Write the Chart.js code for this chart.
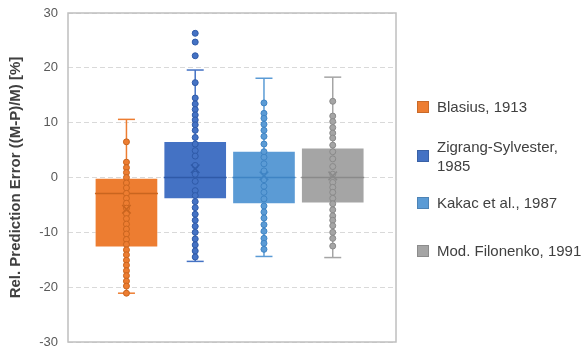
<!DOCTYPE html>
<html>
<head>
<meta charset="utf-8">
<script src="https://cdn.jsdelivr.net/npm/chart.js@4.4.1/dist/chart.umd.min.js"></script>
<style>
  body { margin: 0; background: #fff; }
  #wrap { position: relative; width: 587px; height: 347px; overflow: hidden; }
  #legend { position: absolute; left: 417px; top: 0; width: 170px; font: 15px "Liberation Sans", Arial, sans-serif; color: #404040; }
  .item { position: absolute; left: 0; width: 170px; display: flex; align-items: center; }
  .sw { width: 12px; height: 12px; margin-right: 8px; flex: none; box-sizing: border-box; border: 1px solid rgba(0,0,0,0.15); }
  .txt { flex: none; width: 150px; line-height: 19px; }
</style>
</head>
<body>
<div id="wrap">
  <canvas id="boxChart" width="587" height="347"></canvas>
  <div id="legend"></div>
</div>
<script>
// box plot summary per method
const categories = ['Blasius, 1913', 'Zigrang-Sylvester, 1985', 'Kakac et al., 1987', 'Mod. Filonenko, 1991'];
const whiskerLow = [-21.1, -15.3, -14.4, -14.6];
const whiskerHigh = [10.6, 19.6, 18.1, 18.3];
const q1 = [-12.7, -3.9, -4.8, -4.7];
const q3 = [0.0, 6.6, 4.8, 5.4];
const medians = [-2.9, 0.0, 0.0, 0.0];
const means = [-5.8, 1.6, 0.3, 0.3];

// individual errors
const blasiusPts = [6.5, 2.8, 1.8, 0.9, 0.0, -1.0, -1.9, -2.9, -3.8, -4.7, -5.6, -6.6, -7.5, -8.5, -9.4,
  -10.3, -11.3, -12.2, -13.2, -14.1, -15.1, -16.0, -17.0, -17.9, -18.9, -19.8, -21.1];
const zigrangPts = [26.3, 24.7, 22.2, 17.3, 14.5, 13.4, 12.4, 11.4, 10.5, 9.6, 8.6, 7.3, 6.1, 4.9, 3.9,
  2.2, 0.6, -0.7, -2.4, -3.3, -4.4, -5.5, -6.7, -7.8, -8.9, -10.0, -11.2, -12.3, -13.4, -14.5];
const kakacPts = [13.6, 11.7, 10.8, 9.7, 8.6, 7.5, 6.1, 4.7, 3.7, 2.5, 1.2, -0.4, -1.6, -2.7, -3.9,
  -5.2, -6.3, -7.4, -8.6, -9.8, -11.1, -12.0, -13.1];
const filonenkoPts = [13.9, 11.2, 10.2, 9.1, 8.1, 7.2, 5.9, 4.7, 3.4, 2.0, 0.6, -0.9, -1.8, -2.7, -3.8,
  -4.8, -5.9, -7.0, -7.8, -8.8, -10.0, -11.1, -12.5];
const points = [blasiusPts, zigrangPts, kakacPts, filonenkoPts];

const yTicks = [-30, -20, -10, 0, 10, 20, 30];

const fills = ['#ED7D31', '#4472C4', '#5B9BD5', '#A5A5A5'];
const edges = ['#C9651F', '#2F5AA8', '#3F84C4', '#8A8A8A'];

const datasets = [];
categories.forEach(function(name, i) {
  const x = i + 1;
  datasets.push({
    type: 'line',
    data: [{x: x, y: whiskerLow[i]}, {x: x, y: whiskerHigh[i]}],
    borderColor: fills[i],
    borderWidth: 1.5,
    pointStyle: 'line',
    pointRadius: 8.5,
    pointBorderWidth: 1.5,
    pointBorderColor: fills[i],
    order: 50
  });
  datasets.push({
    type: 'bar',
    data: [{x: x, y: [q1[i], q3[i]]}],
    backgroundColor: fills[i],
    borderColor: 'rgba(255,255,255,0.35)',
    borderWidth: 1,
    borderSkipped: false,
    barThickness: 63,
    grouped: false,
    order: 40
  });
  datasets.push({
    type: 'scatter',
    data: [{x: x, y: medians[i]}],
    pointStyle: 'line',
    pointRadius: 31.5,
    pointBorderWidth: 1.5,
    pointBorderColor: edges[i],
    order: 30
  });
  datasets.push({
    type: 'scatter',
    data: points[i].map(function(v) { return {x: x, y: v}; }),
    pointRadius: 3,
    pointBackgroundColor: fills[i],
    pointBorderColor: edges[i],
    pointBorderWidth: 1,
    order: 20
  });
  datasets.push({
    type: 'scatter',
    data: [{x: x, y: means[i]}],
    pointStyle: 'crossRot',
    pointRadius: 6,
    pointBorderWidth: 1.5,
    pointBorderColor: edges[i],
    order: 10
  });
});

const plotFrame = {
  id: 'plotFrame',
  afterDraw(chart) {
    const a = chart.chartArea;
    const ctx = chart.ctx;
    ctx.save();
    ctx.strokeStyle = '#BFBFBF';
    ctx.lineWidth = 1.5;
    ctx.strokeRect(a.left, a.top, a.right - a.left, a.bottom - a.top);
    ctx.restore();
  }
};

new Chart(document.getElementById('boxChart'), {
  type: 'bar',
  data: { datasets: datasets },
  plugins: [plotFrame],
  options: {
    responsive: false,
    animation: false,
    devicePixelRatio: 1,
    layout: { autoPadding: false, padding: { left: 0, top: 13, right: 191, bottom: 5 } },
    plugins: { legend: { display: false }, tooltip: { enabled: false } },
    scales: {
      x: { type: 'linear', min: 0.15, max: 4.92, offset: false, display: false },
      y: {
        min: -30,
        max: 30,
        afterBuildTicks: function(s) { s.ticks = yTicks.map(function(v) { return {value: v}; }); },
        afterFit: function(s) { s.width = 68; s.paddingTop = 0; s.paddingBottom = 0; },
        ticks: { padding: 10, color: '#595959', font: { family: '"Liberation Sans", Arial, sans-serif', size: 13 } },
        grid: { color: '#D9D9D9', lineWidth: 1, drawTicks: false },
        border: { display: false, dash: [5, 3] },
        title: {
          display: true,
          text: 'Rel. Prediction Error ((M-P)/M) [%]',
          color: '#404040',
          padding: { top: 7, bottom: 0 },
          font: { family: '"Liberation Sans", Arial, sans-serif', size: 15, weight: 'bold' }
        }
      }
    }
  }
});

// legend on the right, built from the categories
const legendTops = [97, 137, 193, 241];
const legend = document.getElementById('legend');
categories.forEach(function(name, i) {
  const item = document.createElement('div');
  item.className = 'item';
  item.style.top = legendTops[i] + 'px';
  const sw = document.createElement('span');
  sw.className = 'sw';
  sw.style.background = fills[i];
  const txt = document.createElement('span');
  txt.className = 'txt';
  txt.textContent = name;
  item.appendChild(sw);
  item.appendChild(txt);
  legend.appendChild(item);
});
</script>
</body>
</html>
